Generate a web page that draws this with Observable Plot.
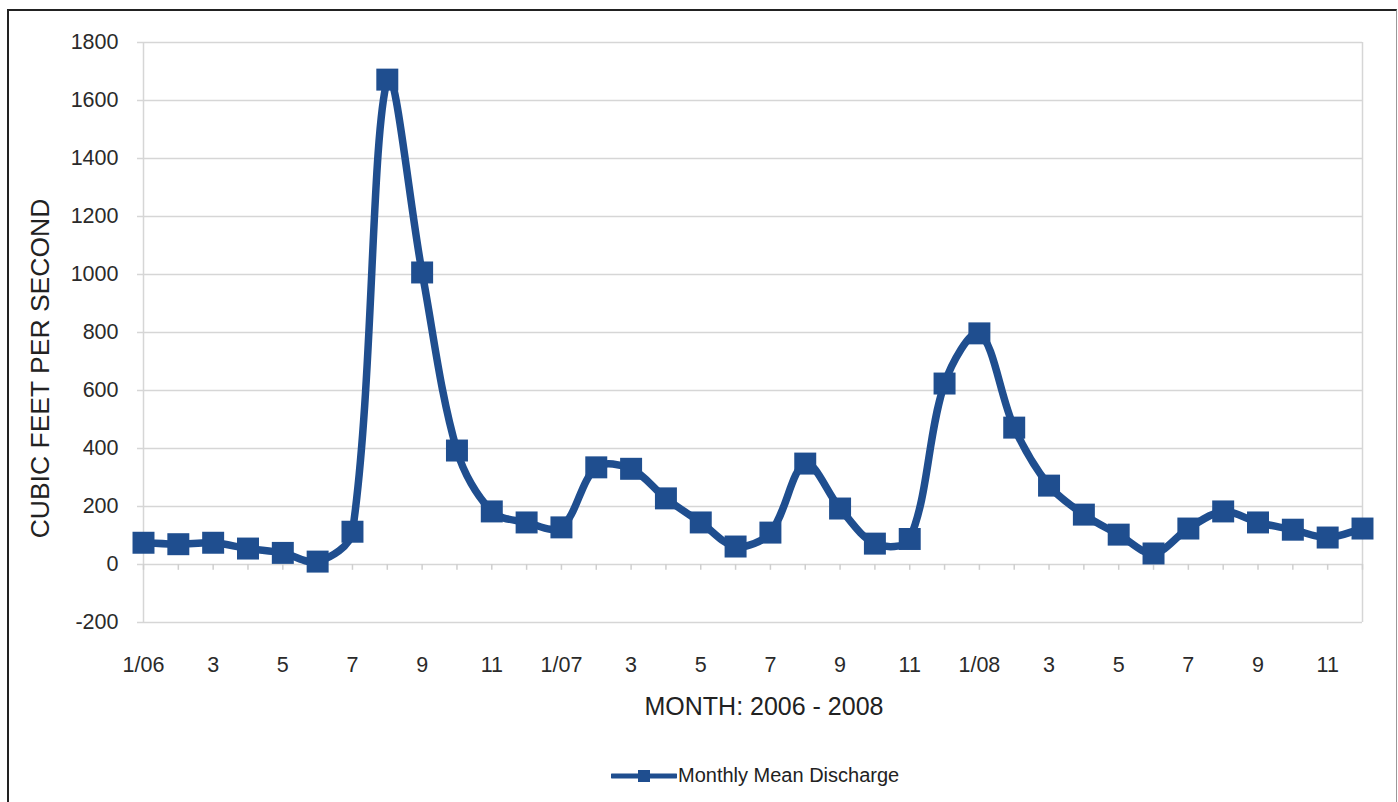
<!DOCTYPE html>
<html>
<head>
<meta charset="utf-8">
<script src="https://cdn.jsdelivr.net/npm/d3@7"></script>
<script src="https://cdn.jsdelivr.net/npm/@observablehq/plot@0.6"></script>
<style>
  html, body { margin: 0; padding: 0; background: #fff; }
  body { font-family: "Liberation Sans", Arial, sans-serif; width: 1398px; height: 802px; position: relative; overflow: hidden; }
  #frame { position: absolute; left: 7px; top: 9px; width: 1390px; height: 800px; box-sizing: border-box;
           border-left: 2px solid #222; border-top: 2px solid #222; border-right: 1px solid #999; }
  #chart { position: absolute; left: 0; top: 0; }
  #legend { position: absolute; left: 611px; top: 764px; display: flex; align-items: center; gap: 1px;
            font-size: 20px; color: #222; }
</style>
</head>
<body>
<div id="frame"></div>
<div id="chart"></div>
<div id="legend"></div>
<script>
// Month labels, Jan 2006 – Dec 2008
const monthLabels = [
  "1/06","2","3","4","5","6","7","8","9","10","11","12",
  "1/07","2","3","4","5","6","7","8","9","10","11","12",
  "1/08","2","3","4","5","6","7","8","9","10","11","12"
];
// Monthly mean discharge, cubic feet per second
const discharge = [
  75, 70, 75, 55, 40, 10, 113, 1672, 1007, 393, 183, 145,
  128, 335, 330, 228, 145, 62, 110, 348, 193, 72, 88, 624,
  797, 472, 272, 172, 103, 38, 124, 183, 145, 120, 93, 124
];
const yTicks = [-200, 0, 200, 400, 600, 800, 1000, 1200, 1400, 1600, 1800];
const seriesName = "Monthly Mean Discharge";
const yTitle = "CUBIC FEET PER SECOND";
const xTitle = "MONTH: 2006 - 2008";

const blue = "#1f4e8f";
const grid = "#d6d6d6";

// Spreadsheet-style smoothed line: Bezier segments whose tangents are
// weighted by the neighbouring segment lengths (a d3 curve factory).
function spreadsheetSmooth(context) {
  let pts;
  return {
    areaStart() {}, areaEnd() {},
    lineStart() { pts = []; },
    point(x, y) { pts.push([+x, +y]); },
    lineEnd() {
      const n = pts.length;
      if (!n) return;
      context.moveTo(pts[0][0], pts[0][1]);
      if (n === 1) return;
      const k = 1 / 3;
      const cp = pts.map((p, i) => {
        const prev = pts[Math.max(0, i - 1)], next = pts[Math.min(n - 1, i + 1)];
        const dx = next[0] - prev[0], dy = next[1] - prev[1];
        const l1 = Math.hypot(p[0] - prev[0], p[1] - prev[1]);
        const l2 = Math.hypot(next[0] - p[0], next[1] - p[1]);
        const s = (l1 + l2) || 1;
        return {
          inn: [p[0] - dx * k * l1 / s, p[1] - dy * k * l1 / s],
          out: [p[0] + dx * k * l2 / s, p[1] + dy * k * l2 / s]
        };
      });
      for (let i = 0; i < n - 1; i++) {
        context.bezierCurveTo(cp[i].out[0], cp[i].out[1], cp[i + 1].inn[0], cp[i + 1].inn[1], pts[i + 1][0], pts[i + 1][1]);
      }
    }
  };
}

const data = discharge.map((v, i) => ({i, v, label: monthLabels[i]}));
const labelIdx = data.filter(d => d.i % 2 === 0).map(d => d.i);

const chart = Plot.plot({
  width: 1398,
  height: 740,
  marginLeft: 143,
  marginRight: 36,
  marginTop: 42,
  marginBottom: 118,
  style: {fontFamily: "'Liberation Sans', Arial, sans-serif", fontSize: "21px", color: "#2a2a2a", background: "transparent", overflow: "visible"},
  x: {domain: [0, discharge.length - 1], axis: null},
  y: {domain: [yTicks[0], yTicks[yTicks.length - 1]], axis: null},
  marks: [
    Plot.gridY(yTicks, {stroke: grid, strokeOpacity: 1, strokeWidth: 1.5}),
    Plot.ruleX([0, discharge.length - 1], {stroke: grid, strokeWidth: 1.5}),
    Plot.ruleX(data, {x: "i", y1: 0, y2: -20, stroke: "#cfcfcf", strokeWidth: 1.5}),
    Plot.axisY(yTicks, {anchor: "left", tickSize: 6, tickPadding: 19, stroke: grid, strokeWidth: 1.5, color: "#2a2a2a", fontSize: 21.5, tickFormat: d => String(d), label: null}),
    Plot.axisX(labelIdx, {anchor: "bottom", tickSize: 0, tickPadding: 34, tickFormat: i => monthLabels[i], color: "#2a2a2a", fontSize: 21.5, label: null}),
    Plot.line(data, {x: "i", y: "v", curve: spreadsheetSmooth, stroke: blue, strokeWidth: 7.5, strokeLinejoin: "round"}),
    Plot.dot(data, {x: "i", y: "v", symbol: "square", r: 12.4, fill: blue, stroke: null}),
    Plot.text([yTitle], {frameAnchor: "left", textAnchor: "middle", lineAnchor: "middle", rotate: -90, dx: -103, dy: 36, fontSize: 26.5, fill: "#222"}),
    Plot.text([xTitle], {frameAnchor: "bottom", textAnchor: "middle", lineAnchor: "middle", dx: 11, dy: 84, fontSize: 25, fill: "#222"})
  ]
});
document.getElementById("chart").appendChild(chart);

// Legend (below the chart)
const legend = document.getElementById("legend");
legend.innerHTML = `<svg width="66" height="22" style="display:block">
  <line x1="1" y1="11" x2="65" y2="11" stroke="${blue}" stroke-width="5" stroke-linecap="round"/>
  <rect x="27" y="5" width="12" height="12" fill="${blue}"/>
</svg><span>${seriesName}</span>`;
</script>
</body>
</html>
